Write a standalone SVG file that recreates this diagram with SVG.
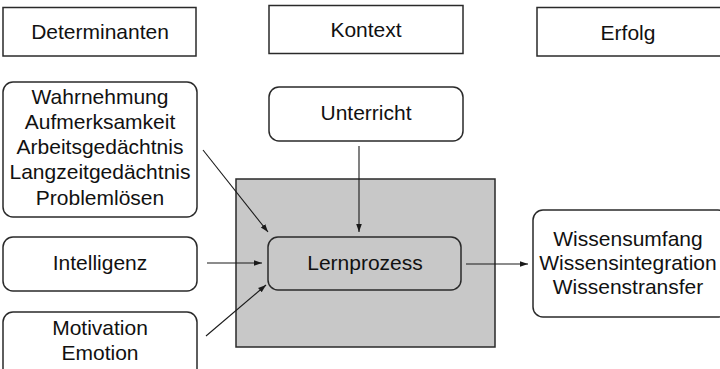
<svg xmlns="http://www.w3.org/2000/svg" width="720" height="369" viewBox="0 0 720 369">
<defs>
<style>
.box{fill:#fff;stroke:#2a2a2a;stroke-width:1.5}
.rbox{fill:#fff;stroke:#2a2a2a;stroke-width:1.5}
.gray{fill:#c8c8c8;stroke:#2a2a2a;stroke-width:1.5}
.t{font-family:"Liberation Sans",Arial,sans-serif;font-size:21px;fill:#111;text-anchor:middle}
.c{stroke:#1a1a1a;stroke-width:1.1;fill:none;marker-end:url(#ah)}
</style>
<marker id="ah" viewBox="0 0 10 10" refX="10" refY="5" markerWidth="8" markerHeight="8" markerUnits="userSpaceOnUse" orient="auto">
<path d="M0,1.5 L10,5 L0,8.5 Z" fill="#1a1a1a"/>
</marker>
</defs>
<rect x="0" y="0" width="720" height="369" fill="#fff"/>
<g id="determinanten"><rect class="box" x="3" y="7.5" width="193" height="48.5"/><text class="t" x="100" y="39">Determinanten</text></g>
<g id="kontext"><rect class="box" x="269" y="5.5" width="194" height="48"/><text class="t" x="366" y="37">Kontext</text></g>
<g id="erfolg"><rect class="box" x="537" y="7.5" width="190" height="48.5"/><text class="t" x="628" y="40">Erfolg</text></g>
<g id="kontext-area"><rect class="gray" x="236" y="179" width="259" height="168"/></g>
<g id="kognition"><rect class="rbox" x="3" y="82" width="194" height="135" rx="10"/>
<text class="t" x="100" y="104">Wahrnehmung</text>
<text class="t" x="100" y="129">Aufmerksamkeit</text>
<text class="t" x="100" y="154">Arbeitsgedächtnis</text>
<text class="t" x="100" y="179">Langzeitgedächtnis</text>
<text class="t" x="100" y="205">Problemlösen</text></g>
<g id="intelligenz"><rect class="rbox" x="3" y="237" width="194" height="54" rx="10"/><text class="t" x="100" y="270">Intelligenz</text></g>
<g id="motivation"><rect class="rbox" x="3" y="312" width="194" height="70" rx="10"/>
<text class="t" x="100" y="335">Motivation</text>
<text class="t" x="100" y="360">Emotion</text></g>
<g id="unterricht"><rect class="rbox" x="269" y="87" width="194" height="54" rx="10"/><text class="t" x="366" y="120">Unterricht</text></g>
<g id="lernprozess"><rect class="rbox" x="268" y="237" width="193" height="53" rx="10" style="fill:#c8c8c8"/><text class="t" x="365" y="270">Lernprozess</text></g>
<g id="wissen"><rect class="rbox" x="533" y="210" width="195" height="107" rx="10"/>
<text class="t" x="628" y="246">Wissensumfang</text>
<text class="t" x="628" y="270">Wissensintegration</text>
<text class="t" x="628" y="294">Wissenstransfer</text></g>
<g id="connectors">
<line class="c" x1="203" y1="150" x2="268" y2="232"/>
<line class="c" x1="207" y1="263" x2="262" y2="263"/>
<line class="c" x1="206" y1="336" x2="266" y2="285"/>
<line class="c" x1="359" y1="146" x2="359" y2="232"/>
<line class="c" x1="466" y1="264" x2="528" y2="264"/>
</g>
</svg>
